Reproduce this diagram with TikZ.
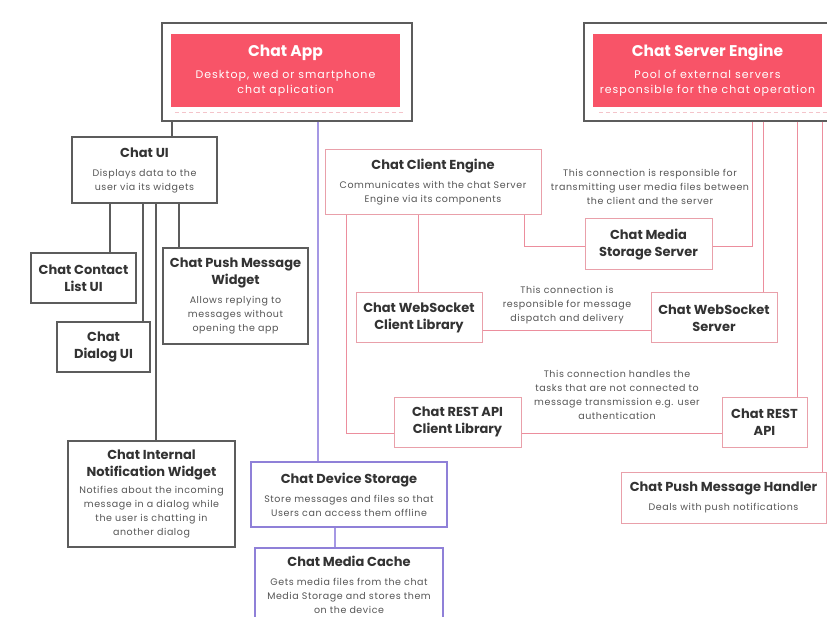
\documentclass[tikz,border=0pt]{standalone}
\usepackage{fontspec}
\setmainfont{Poppins}
\newfontfamily\descfam{Poppins}[LetterSpace=6]
\newfontfamily\bigdescfam{Poppins}[LetterSpace=9]
\usetikzlibrary{calc}
\definecolor{appred}{HTML}{F85468}
\definecolor{boxgray}{HTML}{5C5C5C}
\definecolor{linegray}{HTML}{5C5C5C}
\definecolor{boxpink}{HTML}{E9A0AA}
\definecolor{linepink}{HTML}{EC8E9D}
\definecolor{boxpurple}{HTML}{8F80D8}
\definecolor{linepurple}{HTML}{A598E4}
\definecolor{titletext}{HTML}{333333}
\definecolor{desctext}{HTML}{555555}
\definecolor{dashpink}{HTML}{F4C4CA}
\newcommand\tfont{\fontsize{13}{14}\selectfont\bfseries}
\newcommand\dfont{\descfam\fontsize{9.5}{14}\selectfont\color{desctext}}
\newcommand\bigtf{\fontsize{15.5}{15}\selectfont\bfseries}
\newcommand\bigdf{\bigdescfam\fontsize{11}{15}\selectfont}
\tikzset{
  base/.style={rectangle, inner sep=0pt, align=center, text=titletext, fill=white,
    font=\fontsize{9.5}{14}\selectfont},
  gbox/.style={base, draw=boxgray, line width=1.2pt},
  pbox/.style={base, draw=boxpink, line width=1pt},
  vbox/.style={base, draw=boxpurple, line width=1.2pt},
  outerbox/.style={rectangle, draw=boxgray, line width=1.3pt, inner sep=0pt},
  redbox/.style={rectangle, fill=appred, inner sep=0pt, align=center, text=white,
    font=\fontsize{11}{15}\selectfont},
  gline/.style={draw=linegray, line width=1.2pt},
  pline/.style={draw=linepink, line width=1pt},
  vline/.style={draw=linepurple, line width=1.3pt},
  dline/.style={draw=dashpink, line width=1pt, dash pattern=on 4pt off 3pt},
  note/.style={align=center, inner sep=0pt, text=desctext, font=\dfont}
}
\begin{document}
\begin{tikzpicture}[x=1pt,y=-1pt]
\useasboundingbox (0,0) rectangle (827,617);
\fill[white] (0,0) rectangle (827,617);

% top containers
\node[outerbox, minimum width=250, minimum height=98] (appouter) at (287,72) {};
\node[redbox, minimum width=229, minimum height=73] (appbox) at (285.5,70.5)
  {\bigtf Chat App\\[7pt]\bigdf Desktop, wed or smartphone\\\bigdf chat aplication};
\node[outerbox, minimum width=256, minimum height=98] (srvouter) at (712,72) {};
\node[redbox, minimum width=229, minimum height=73] (srvbox) at (707.5,70.5)
  {\bigtf Chat Server Engine\\[7pt]\bigdf Pool of external servers\\\bigdf responsible for the chat operation};
\draw[dline] ($(appbox.south west)+(4,5)$) -- ($(appbox.south east)+(4,5)$);
\draw[dline] ($(srvbox.south west)+(6,5)$) -- ($(srvbox.south east)+(10,5)$);

% Chat UI subtree
\node[gbox, minimum width=145, minimum height=66] (chatui) at (144.5,170)
  {\tfont Chat UI\\[5pt]\dfont Displays data to the\\\dfont user via its widgets};
\node[gbox, minimum width=105, minimum height=50] (contact) at (83.5,278)
  {\tfont Chat Contact\\[3pt]\tfont List UI};
\node[gbox, minimum width=93, minimum height=50] (dialog) at (103.5,347)
  {\tfont Chat\\[3pt]\tfont Dialog UI};
\node[gbox, minimum width=145, minimum height=96] (pushwidget) at (235.5,296)
  {\tfont Chat Push Message\\[3pt]\tfont Widget\\[5pt]\dfont Allows replying to\\\dfont messages without\\\dfont opening the app};
\node[gbox, minimum width=167, minimum height=106] (internal) at (151.5,494)
  {\tfont Chat Internal\\[3pt]\tfont Notification Widget\\[3.5pt]\dfont Notifies about the incoming\\\dfont message in a dialog while\\\dfont the user is chatting in\\\dfont another dialog};

% device storage
\node[vbox, minimum width=196, minimum height=65] (devstore) at (349,494.5)
  {\tfont Chat Device Storage\\[5pt]\dfont Store messages and files so that\\\dfont Users can access them offline};
\node[vbox, minimum width=188, minimum height=92] (mediacache) at (349,594) {};
\node[anchor=north, align=center, inner sep=0pt, text=titletext, font=\fontsize{9.5}{14}\selectfont] (mediacachetext) at ($(mediacache.north)+(0,8)$)
  {\tfont Chat Media Cache\\[5pt]\dfont Gets media files from the chat\\\dfont Media Storage and stores them\\\dfont on the device};

% client engine
\node[pbox, minimum width=216, minimum height=65] (client) at (433,182.5)
  {\tfont Chat Client Engine\\[5pt]\dfont Communicates with the chat Server\\\dfont Engine via its components};
\node[pbox, minimum width=127, minimum height=51] (mediaserver) at (648.5,244.5)
  {\tfont Chat Media\\[3pt]\tfont Storage Server};
\node[pbox, minimum width=126, minimum height=50] (wsclient) at (419,318)
  {\tfont Chat WebSocket\\[3pt]\tfont Client Library};
\node[pbox, minimum width=126, minimum height=50] (wsserver) at (714,318)
  {\tfont Chat WebSocket\\[3pt]\tfont Server};
\node[pbox, minimum width=127, minimum height=50] (restclient) at (457.5,422)
  {\tfont Chat REST API\\[3pt]\tfont Client Library};
\node[pbox, minimum width=85, minimum height=50] (restapi) at (764.5,422)
  {\tfont Chat REST\\[3pt]\tfont API};
\node[pbox, minimum width=205, minimum height=51] (pushhandler) at (723.5,497.5)
  {\tfont Chat Push Message Handler\\[5pt]\dfont Deals with push notifications};

% notes
\node[note] (note1) at (650,187) {This connection is responsible for\\transmitting user media files between\\the client and the server};
\node[note] (note2) at (567,305) {This connection is\\responsible for message\\dispatch and delivery};
\node[note] (note3) at (617,395) {This connection handles the\\tasks that are not connected to\\message transmission e.g. user\\authentication};

% helper coordinates
\coordinate (xa) at (172,0);
\coordinate (xb) at (318,0);
\coordinate (xc1) at (110,0);
\coordinate (xc2) at (143,0);
\coordinate (xc3) at (156,0);
\coordinate (xc4) at (179,0);
\coordinate (xd) at (335,0);
\coordinate (xe1) at (346,0);
\coordinate (xe2) at (418,0);
\coordinate (xe3) at (524,0);
\coordinate (xf1) at (752,0);
\coordinate (xf2) at (763,0);
\coordinate (xf3) at (797,0);
\coordinate (xf4) at (822,0);
\coordinate (ym) at (0,247);
\coordinate (yw) at (0,331);
\coordinate (yr) at (0,433);

% connectors
\draw[gline] (appouter.south -| xa) -- (chatui.north -| xa);
\draw[vline] (appouter.south -| xb) -- (devstore.north -| xb);
\draw[gline] (chatui.south -| xc1) -- (contact.north -| xc1);
\draw[gline] (chatui.south -| xc2) -- (dialog.north -| xc2);
\draw[gline] (chatui.south -| xc3) -- (internal.north -| xc3);
\draw[gline] (chatui.south -| xc4) -- (pushwidget.north -| xc4);
\draw[vline] (devstore.south -| xd) -- (mediacache.north -| xd);
\draw[pline] (client.south -| xe1) |- (restclient.west |- yr);
\draw[pline] (client.south -| xe2) -- (wsclient.north -| xe2);
\draw[pline] (client.south -| xe3) |- (mediaserver.west |- ym);
\draw[pline] (mediaserver.east |- ym) -| (srvouter.south -| xf1);
\draw[pline] (srvouter.south -| xf2) -- (wsserver.north -| xf2);
\draw[pline] (srvouter.south -| xf3) -- (restapi.north -| xf3);
\draw[pline] (srvouter.south -| xf4) -- (pushhandler.north -| xf4);
\draw[pline] (wsclient.east |- yw) -- (wsserver.west |- yw);
\draw[pline] (restclient.east |- yr) -- (restapi.west |- yr);
\end{tikzpicture}
\end{document}
